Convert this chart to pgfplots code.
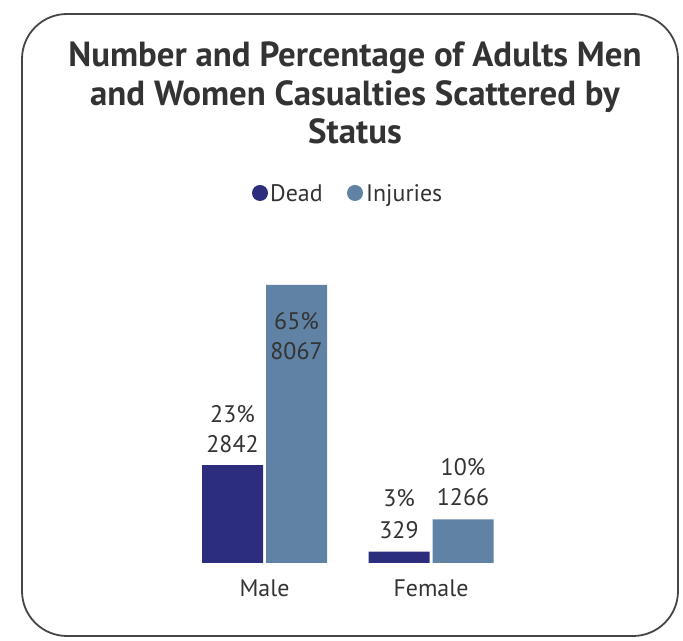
\documentclass[border=0pt]{standalone}
\usepackage{fontspec}
\setmainfont{PT Sans}
\usepackage{pgfplots}
\pgfplotsset{compat=1.18}
\definecolor{deadblue}{RGB}{44,46,125}
\definecolor{injblue}{RGB}{95,130,165}
\definecolor{txt}{RGB}{51,51,51}
\definecolor{framegray}{RGB}{70,70,70}
\begin{document}
\begin{tikzpicture}[x=1bp,y=1bp]
\path (0,0) rectangle (683,641);
\draw[framegray, line width=1.8bp, rounded corners=45bp] (22,5) rectangle (678,627);
% title
\begin{scope}[every node/.style={font=\bfseries\fontsize{35}{39}\selectfont, text=txt, anchor=base, inner sep=0pt}]
\node at (355,574) {Number and Percentage of Adults Men};
\node at (355,535) {and Women Casualties Scattered by};
\node at (355,497) {Status};
\end{scope}
% legend
\fill[deadblue] (260,448) circle (8);
\node[anchor=base west, inner sep=0pt, text=txt, font=\fontsize{24}{24}\selectfont] at (270,439) {Dead};
\fill[injblue] (355,448) circle (8);
\node[anchor=base west, inner sep=0pt, text=txt, font=\fontsize{24}{24}\selectfont] at (366,439) {Injuries};

\begin{axis}[
  at={(181.25bp,78bp)}, anchor=south west,
  scale only axis, width=333bp, height=278bp,
  xmin=-0.5, xmax=1.5, ymin=0, ymax=8067,
  clip=false,
  axis line style={draw=none},
  ytick=\empty,
  xtick={0,1}, xticklabels={Male,Female},
  major tick length=0pt,
  xticklabel style={font=\fontsize{24}{24}\selectfont, text=txt, anchor=base, yshift=-34bp},
]
\addplot[ybar, bar width=61bp, bar shift=-32bp, fill=deadblue, draw=none] coordinates {(0,2842) (1,329)};
\addplot[ybar, bar width=61bp, bar shift=32bp, fill=injblue, draw=none] coordinates {(0,8067) (1,1266)};
\begin{scope}[every node/.style={font=\fontsize{24}{24}\selectfont, text=txt, anchor=base, inner sep=0pt}]
\node at ([xshift=-32bp,yshift=43bp]axis cs:0,2842) {23\%};
\node at ([xshift=-32bp,yshift=13bp]axis cs:0,2842) {2842};
\node at ([xshift=32bp,yshift=-45bp]axis cs:0,8067) {65\%};
\node at ([xshift=32bp,yshift=-75bp]axis cs:0,8067) {8067};
\node at ([xshift=-32bp,yshift=45bp]axis cs:1,329) {3\%};
\node at ([xshift=-32bp,yshift=13bp]axis cs:1,329) {329};
\node at ([xshift=32bp,yshift=44bp]axis cs:1,1266) {10\%};
\node at ([xshift=32bp,yshift=14bp]axis cs:1,1266) {1266};
\end{scope}
\end{axis}
\end{tikzpicture}
\end{document}
